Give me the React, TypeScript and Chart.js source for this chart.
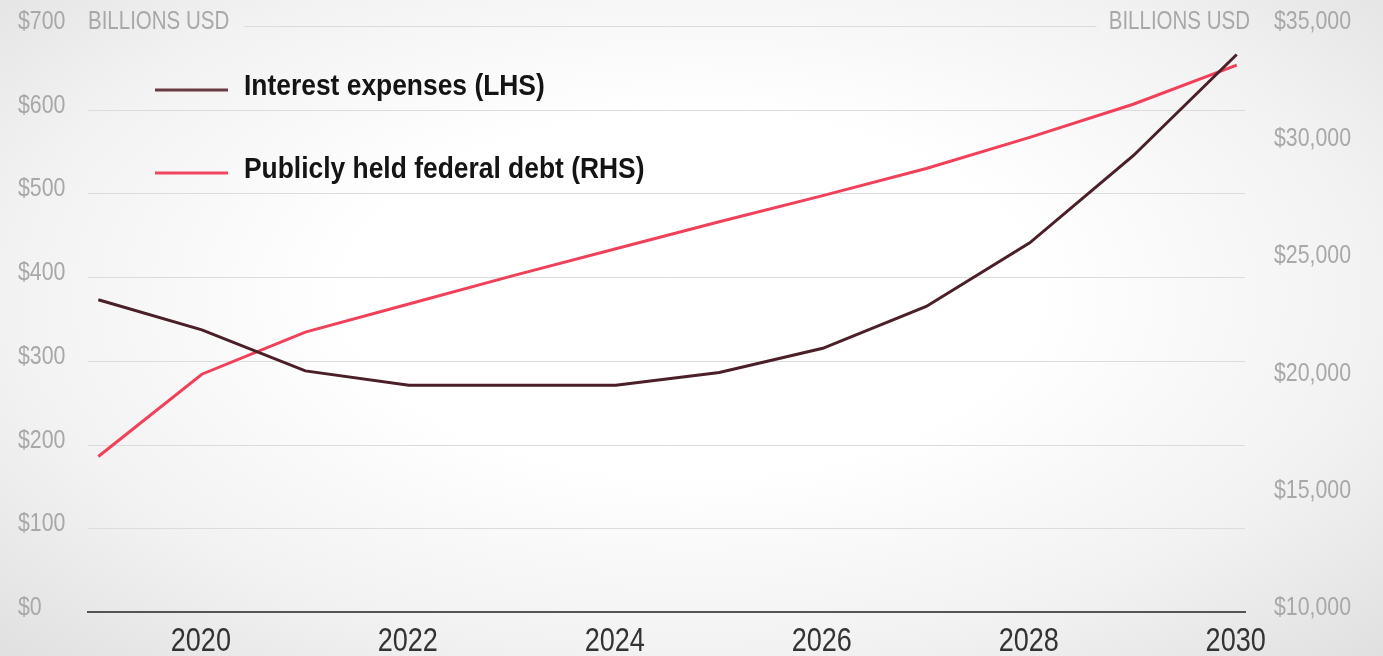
import { useEffect, useRef } from "react";
import { Chart, registerables } from "chart.js";

Chart.register(...registerables);

const years = [2019, 2020, 2021, 2022, 2023, 2024, 2025, 2026, 2027, 2028, 2029, 2030];
const interestExpenses = [373, 337, 288, 271, 271, 271, 286, 315, 365, 441, 545, 666];
const federalDebt = [16635, 20145, 21943, 23142, 24340, 25496, 26652, 27765, 28921, 30248, 31661, 33330];
const xTickYears = [2020, 2022, 2024, 2026, 2028, 2030];
const leftTicks = [0, 100, 200, 300, 400, 500, 600, 700];
const rightTicks = [10000, 15000, 20000, 25000, 30000, 35000];
const unitLabel = "BILLIONS USD";
const seriesLabels = ["Interest expenses (LHS)", "Publicly held federal debt (RHS)"];

const FONT = '"Liberation Sans", Arial, sans-serif';
const SX = 0.82; // horizontal compression -> narrow face
const GRAY = "#a8a8a8";

const fmt = (v: number) => "$" + v.toLocaleString("en-US");

function drawText(
  ctx: CanvasRenderingContext2D,
  text: string,
  x: number,
  y: number,
  align: CanvasTextAlign,
  sx: number = SX
) {
  ctx.save();
  ctx.translate(x, y);
  ctx.scale(sx, 1);
  ctx.textAlign = align;
  ctx.textBaseline = "alphabetic";
  ctx.fillText(text, 0, 0);
  ctx.restore();
}

const overlayPlugin = {
  id: "overlay",
  beforeDatasetsDraw(chart: any) {
    const { ctx, chartArea } = chart;
    const yL = chart.scales.y;
    ctx.save();
    ctx.font = `25px ${FONT}`;
    const unitW = ctx.measureText(unitLabel).width * SX;
    ctx.strokeStyle = "#dcdcdc";
    ctx.lineWidth = 1;
    leftTicks.forEach((t) => {
      if (t === 0) return;
      const y = Math.round(yL.getPixelForValue(t)) + 0.5;
      let x0 = chartArea.left;
      let x1 = chartArea.right;
      if (t === leftTicks[leftTicks.length - 1]) {
        x0 = chartArea.left + unitW + 15;
        x1 = 1250 - unitW - 12;
      }
      ctx.beginPath();
      ctx.moveTo(x0, y);
      ctx.lineTo(x1, y);
      ctx.stroke();
    });
    ctx.restore();
  },
  afterDraw(chart: any) {
    const { ctx, chartArea } = chart;
    const yL = chart.scales.y;
    const yR = chart.scales.y2;
    const xS = chart.scales.x;
    ctx.save();
    ctx.font = `26px ${FONT}`;
    ctx.fillStyle = GRAY;
    leftTicks.forEach((t) => {
      drawText(ctx, fmt(t), 18, yL.getPixelForValue(t) + 3, "left");
    });
    rightTicks.forEach((t) => {
      drawText(ctx, fmt(t), 1274, yR.getPixelForValue(t) + 3, "left");
    });
    const topY = yL.getPixelForValue(leftTicks[leftTicks.length - 1]) + 3;
    ctx.font = `25px ${FONT}`;
    drawText(ctx, unitLabel, chartArea.left, topY, "left");
    drawText(ctx, unitLabel, 1250, topY, "right");

    // x tick labels
    ctx.font = `33px ${FONT}`;
    ctx.fillStyle = "#333";
    xTickYears.forEach((v) => {
      drawText(ctx, String(v), xS.getPixelForValue(v) - 1, 651, "center");
    });

    // legend
    const legendColors = ["#6a3a42", "#f0465e"];
    const baselines = [95, 178];
    ctx.font = `bold 30px ${FONT}`;
    seriesLabels.forEach((lab, i) => {
      ctx.strokeStyle = legendColors[i];
      ctx.lineWidth = 3;
      ctx.beginPath();
      ctx.moveTo(155, baselines[i] - 5);
      ctx.lineTo(228, baselines[i] - 5);
      ctx.stroke();
      ctx.fillStyle = "#141414";
      drawText(ctx, lab, 244, baselines[i], "left", 0.88);
    });
    ctx.restore();
  },
};

export default function App() {
  const canvasRef = useRef<HTMLCanvasElement | null>(null);

  useEffect(() => {
    document.body.style.margin = "0";
    const canvas = canvasRef.current;
    if (!canvas) return;
    const chart = new Chart(canvas, {
      type: "line",
      data: {
        datasets: [
          {
            label: seriesLabels[0],
            data: years.map((y, i) => ({ x: y, y: interestExpenses[i] })),
            borderColor: "#4a1f27",
            borderWidth: 3,
            pointRadius: 0,
            tension: 0,
            yAxisID: "y",
          },
          {
            label: seriesLabels[1],
            data: years.map((y, i) => ({ x: y, y: federalDebt[i] })),
            borderColor: "#f0405a",
            borderWidth: 3,
            pointRadius: 0,
            tension: 0,
            yAxisID: "y2",
          },
        ],
      },
      options: {
        responsive: false,
        animation: false,
        devicePixelRatio: 1,
        layout: { padding: { top: 26, left: 0, right: 0, bottom: 0 } },
        plugins: { legend: { display: false }, tooltip: { enabled: false } },
        scales: {
          x: {
            type: "linear",
            min: 2018.9,
            max: 2030.08,
            afterBuildTicks: (s: any) => {
              s.ticks = xTickYears.map((v) => ({ value: v }));
            },
            afterFit: (s: any) => {
              s.height = 44;
            },
            grid: { display: false },
            border: { display: true, color: "#555", width: 2 },
            ticks: { display: false },
          },
          y: {
            position: "left",
            min: 0,
            max: 700,
            grid: { display: false },
            border: { display: false },
            ticks: { display: false },
            afterFit: (s: any) => {
              s.width = 88;
            },
          },
          y2: {
            position: "right",
            min: 10000,
            max: 35000,
            grid: { display: false },
            border: { display: false },
            ticks: { display: false },
            afterFit: (s: any) => {
              s.width = 138;
            },
          },
        },
      },
      plugins: [overlayPlugin],
    } as any);
    return () => chart.destroy();
  }, []);

  return (
    <div
      style={{
        position: "absolute",
        left: 0,
        top: 0,
        width: 1383,
        height: 656,
        background: "radial-gradient(ellipse at 50% 45%, #ffffff 35%, #f2f2f2 70%, #e0e0e0 100%)",
      }}
    >
      <canvas ref={canvasRef} width={1383} height={656} style={{ display: "block" }} />
    </div>
  );
}
